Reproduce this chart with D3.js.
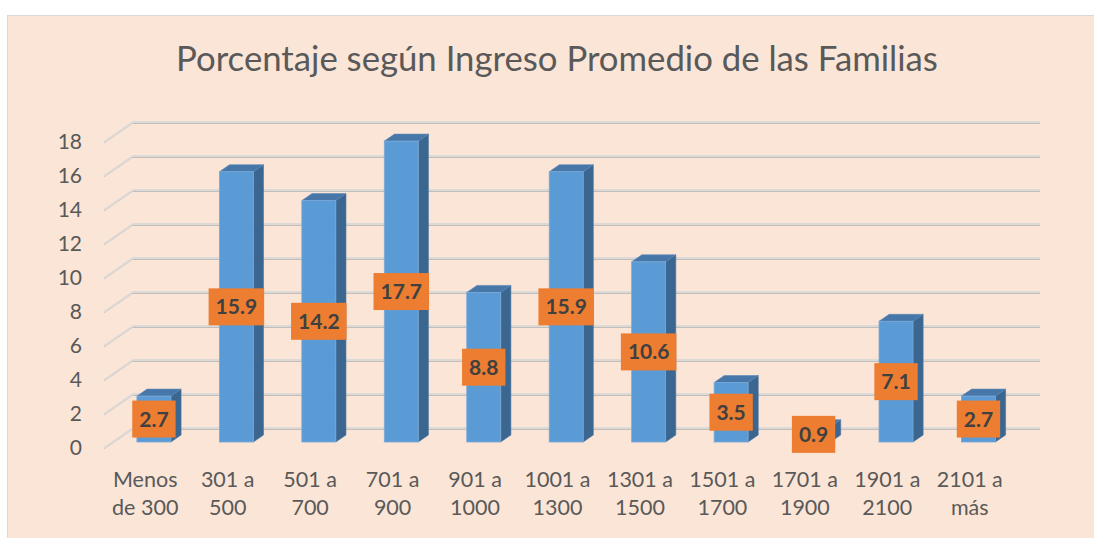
<!DOCTYPE html>
<html>
<head>
<meta charset="utf-8">
<script src="https://cdn.jsdelivr.net/npm/d3@7"></script>
<style>
  body { margin: 0; background: #fff; }
  svg text { font-family: Lato, "Open Sans", sans-serif; }
</style>
</head>
<body>
<div class="board"></div>
<script>
// data
const categories = ["Menos\nde 300", "301 a\n500", "501 a\n700", "701 a\n900", "901 a\n1000",
  "1001 a\n1300", "1301 a\n1500", "1501 a\n1700", "1701 a\n1900", "1901 a\n2100", "2101 a\nmás"];
const values = [2.7, 15.9, 14.2, 17.7, 8.8, 15.9, 10.6, 3.5, 0.9, 7.1, 2.7];
const yTicks = [0, 2, 4, 6, 8, 10, 12, 14, 16, 18];
const title = "Porcentaje según Ingreso Promedio de las Familias";

const width = 1094;
const height = 538;

// 3d-ish projection: front floor line at y0, back wall offset by depth
const y0 = 448;
const depthX = 29, depthY = 20;
const wallLeft = 104, wallRight = 1011;

const svg = d3.select(".board").append("svg")
  .attr("width", width)
  .attr("height", height);

// chart area
svg.append("rect")
  .attr("x", 7.5).attr("y", 15.5)
  .attr("width", width).attr("height", height)
  .attr("fill", "#FBE5D6")
  .attr("stroke", "#d9d9d9");

const x = d3.scaleBand()
  .domain(categories)
  .range([wallLeft, wallRight])
  .paddingInner(0.588)
  .paddingOuter(0.294);

const y = d3.scaleLinear().domain([0, 18]).range([0, 306]);

// point at value v, depth t (0 front .. 1 back)
const px = (xf, t) => xf + depthX * t;
const py = (v, t) => y0 - depthY * t - y(v);

// gridlines on side + back walls
const grid = svg.append("g");
yTicks.forEach(v => {
  grid.append("line")
    .attr("x1", px(wallLeft, 0)).attr("y1", py(v, 0) + 1)
    .attr("x2", px(wallLeft, 1)).attr("y2", py(v, 1) + 1)
    .attr("stroke", "#c8c1bb").attr("stroke-width", 1);
  grid.append("line")
    .attr("x1", px(wallLeft, 0)).attr("y1", py(v, 0))
    .attr("x2", px(wallLeft, 1)).attr("y2", py(v, 1))
    .attr("stroke", "#dcdad8").attr("stroke-width", 2);
  grid.append("line")
    .attr("x1", px(wallLeft, 1)).attr("y1", py(v, 1) + 1.5)
    .attr("x2", px(wallRight, 1)).attr("y2", py(v, 1) + 1.5)
    .attr("stroke", "#c4bcb6").attr("stroke-width", 1);
  grid.append("line")
    .attr("x1", px(wallLeft, 1)).attr("y1", py(v, 1))
    .attr("x2", px(wallRight, 1)).attr("y2", py(v, 1))
    .attr("stroke", "#dcdad8").attr("stroke-width", 2.2);
});

// y axis labels
svg.append("g").selectAll("text")
  .data(yTicks)
  .enter().append("text")
  .attr("x", 82)
  .attr("y", d => py(d, 0))
  .attr("dy", "0.35em")
  .attr("text-anchor", "end")
  .attr("font-size", 21)
  .attr("fill", "#595959")
  .text(d => d);

// bars
const tFront = 0.3, tBack = 0.65;
const bw = x.bandwidth();
const bars = svg.append("g").selectAll("g")
  .data(values)
  .enter().append("g");

const dx = depthX * (tBack - tFront), dy = depthY * (tBack - tFront);

bars.append("polygon") // side
  .attr("points", (d, i) => {
    const xr = px(x(categories[i]), tFront) + bw;
    const yb = py(0, tFront), yt = py(d, tFront);
    return [[xr, yb], [xr, yt], [xr + dx, yt - dy], [xr + dx, yb - dy]].join(" ");
  })
  .attr("fill", "#3a6690").attr("stroke", "#4a76a0").attr("stroke-width", 0.6);

bars.append("polygon") // top
  .attr("points", (d, i) => {
    const xl = px(x(categories[i]), tFront);
    const yt = py(d, tFront);
    return [[xl, yt], [xl + bw, yt], [xl + bw + dx, yt - dy], [xl + dx, yt - dy]].join(" ");
  })
  .attr("fill", "#4677a8").attr("stroke", "#5a88b8").attr("stroke-width", 0.6);

bars.append("rect") // front
  .attr("x", (d, i) => px(x(categories[i]), tFront))
  .attr("y", d => py(d, tFront))
  .attr("width", bw)
  .attr("height", d => y(d))
  .attr("fill", "#5b9bd5")
  .attr("stroke", "#7aa9d6").attr("stroke-width", 0.8);

// data labels
const labels = svg.append("g").selectAll("g")
  .data(values)
  .enter().append("g")
  .attr("transform", (d, i) => {
    const cx = px(x(categories[i]), tFront) + bw / 2;
    const cy = py(d / 2, tFront);
    return "translate(" + cx + "," + cy + ")";
  });

labels.append("text")
  .attr("text-anchor", "middle")
  .attr("dy", "0.36em")
  .attr("font-size", 21)
  .attr("font-weight", "bold")
  .attr("fill", "#404040")
  .text(d => d.toFixed(1));

labels.each(function() {
  const g = d3.select(this);
  const w = g.select("text").node().getComputedTextLength() + 14;
  g.insert("rect", "text")
    .attr("x", -w / 2).attr("y", -18.5)
    .attr("width", w).attr("height", 37)
    .attr("fill", "#ED7D31");
});

// x axis labels
const xl = svg.append("g").selectAll("text")
  .data(categories)
  .enter().append("text")
  .attr("x", d => x(d) + bw / 2)
  .attr("y", 487)
  .attr("text-anchor", "middle")
  .attr("font-size", 21.5)
  .attr("fill", "#595959");

xl.selectAll("tspan")
  .data(d => d.split("\n"))
  .enter().append("tspan")
  .attr("x", function() { return d3.select(this.parentNode).attr("x"); })
  .attr("dy", (d, i) => i ? 28 : 0)
  .text(d => d);

// title
const t = svg.append("text")
  .attr("x", 557)
  .attr("y", 71)
  .attr("text-anchor", "middle")
  .attr("font-size", 31)
  .attr("fill", "#595959")
  .text(title);
const tw = t.node().getComputedTextLength();
t.attr("font-size", 31 * 762 / tw);
</script>
</body>
</html>
